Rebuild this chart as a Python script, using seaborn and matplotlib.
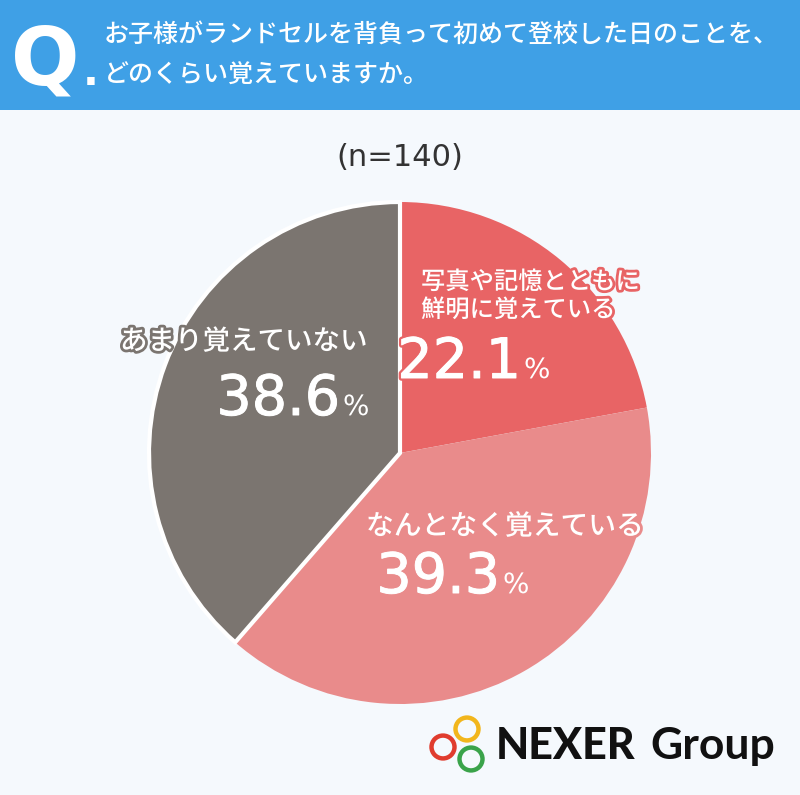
import matplotlib
matplotlib.use("Agg")
import matplotlib.pyplot as plt
import matplotlib.patheffects as pe
from matplotlib.patches import Rectangle, Circle
import seaborn as sns

categories = ["写真や記憶とともに\n鮮明に覚えている", "なんとなく覚えている", "あまり覚えていない"]
values = [22.1, 39.3, 38.6]
value_labels = ["22.1", "39.3", "38.6"]
colors = ["#E86465", "#E98B8B", "#7B7570"]
question = ["お子様がランドセルを背負って初めて登校した日のことを、", "どのくらい覚えていますか。"]
sample = "(n=140)"

sns.set_theme(style="white")
plt.rcParams["font.family"] = ["Noto Sans CJK JP", "DejaVu Sans"]

W, H = 800, 795
fig = plt.figure(figsize=(W / 100, H / 100), dpi=100)
fig.patch.set_facecolor("#F5F9FD")

def fx(x):
    return x / W

def fy(y):
    return 1 - y / H

# header band
fig.patches.append(Rectangle((0, fy(110)), 1, 110 / H, transform=fig.transFigure,
                             facecolor="#3FA0E6", edgecolor="none", zorder=0))
fig.text(fx(45), fy(85), "Q", color="white", fontsize=58, fontweight="bold",
         ha="center", va="baseline", family=["Liberation Sans Narrow", "DejaVu Sans"])
fig.text(fx(91), fy(85), ".", color="white", fontsize=30, fontweight="bold",
         ha="center", va="baseline", family=["Liberation Sans Narrow", "DejaVu Sans"])
fig.text(fx(104), fy(36), question[0], color="white", fontsize=18,
         ha="left", va="center", fontweight="medium")
fig.text(fx(104), fy(76), question[1], color="white", fontsize=18,
         ha="left", va="center", fontweight="medium")

fig.text(fx(400), fy(158), sample, color="#333333", fontsize=22, ha="center", va="center",
         family=["DejaVu Sans"])

# pie
cx, cy, r = 400, 453, 251
ax = fig.add_axes([fx(cx - r), fy(cy + r), 2 * r / W, 2 * r / H])
wedges, _ = ax.pie(values, colors=colors, startangle=90, counterclock=False,
                   wedgeprops=dict(linewidth=0))
wedges[2].set_edgecolor("white")
wedges[2].set_linewidth(3)
wedges[2].set_zorder(5)
ax.set_xlim(-1, 1)
ax.set_ylim(-1, 1)
ax.set_aspect("equal")
ax.axis("off")

def label(lines, x, ys, color, fs):
    for line, y in zip(lines, ys):
        fig.text(fx(x), fy(y), line, color="white", fontsize=fs, ha="left", va="center",
                 fontweight="medium",
                 path_effects=[pe.withStroke(linewidth=4, foreground=color)])

def pct(txt, xsplit, ybase, color):
    effects = [pe.Stroke(linewidth=4, foreground=color),
               pe.Stroke(linewidth=0.7, foreground="white"), pe.Normal()]
    fig.text(fx(xsplit), fy(ybase), txt, color="white", fontsize=40, ha="right",
             va="baseline", family=["DejaVu Sans"], path_effects=effects)
    fig.text(fx(xsplit + 3), fy(ybase), "%", color="white", fontsize=20, ha="left",
             va="baseline", family=["DejaVu Sans"],
             path_effects=[pe.withStroke(linewidth=3, foreground=color)])

label(categories[0].split("\n"), 421, [282, 310], colors[0], 17.5)
pct(value_labels[0], 521, 378, colors[0])
label([categories[1]], 366, [526], colors[1], 20)
pct(value_labels[1], 500, 593, colors[1])
label([categories[2]], 120, [341], colors[2], 19.8)
pct(value_labels[2], 340, 415, colors[2])

# logo
for (x, y, c) in [(467, 729, "#F2B61C"), (443, 747, "#E03C2E"), (471, 759, "#3AA34A")]:
    fig.patches.append(Circle((fx(x), fy(y)), 11.5 / W, transform=fig.transFigure,
                              facecolor="none", edgecolor=c, linewidth=3.2))
fig.text(fx(496), fy(759), "NEXER", color="#111111", fontsize=31, fontweight="black",
         ha="left", va="baseline", family=["Lato", "DejaVu Sans"])
fig.text(fx(650), fy(759), "Group", color="#111111", fontsize=32, fontweight="bold",
         ha="left", va="baseline", family=["Lato", "DejaVu Sans"])

fig.savefig("out.png", dpi=100, facecolor=fig.get_facecolor())
